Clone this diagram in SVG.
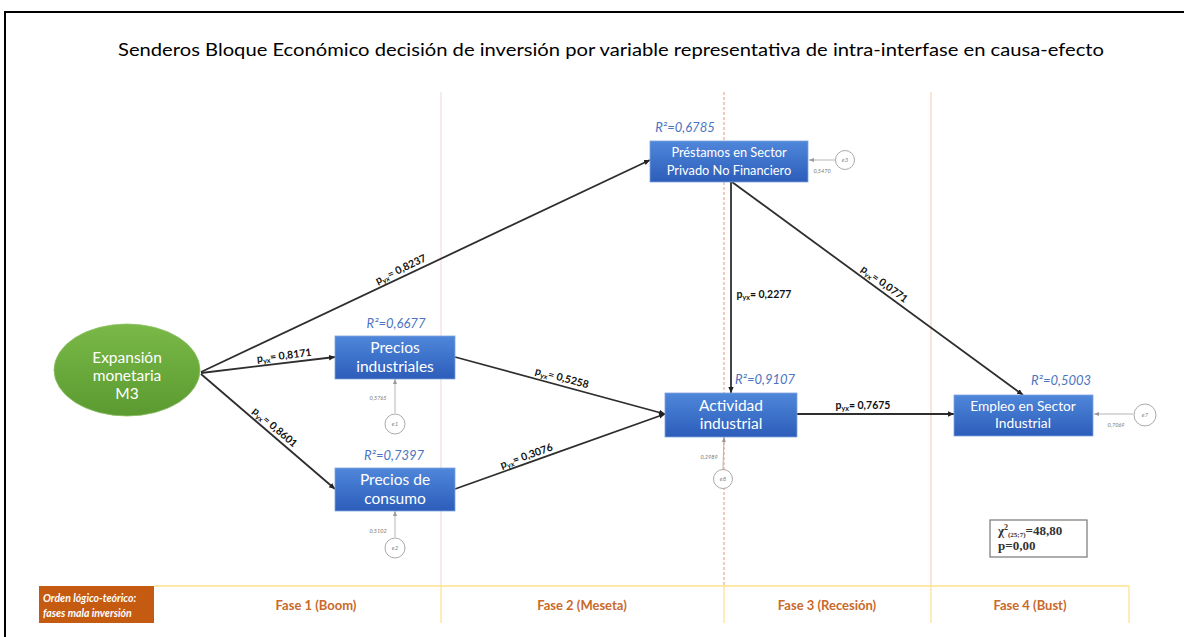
<svg xmlns="http://www.w3.org/2000/svg" width="1184" height="637" viewBox="0 0 1184 637">
<defs>
<linearGradient id="gBlue" x1="0" y1="0" x2="0" y2="1">
<stop offset="0" stop-color="#4F87DA"/>
<stop offset="1" stop-color="#2C5DBA"/>
</linearGradient>
<linearGradient id="gGreen" x1="0" y1="0" x2="0" y2="1">
<stop offset="0" stop-color="#7AB948"/>
<stop offset="1" stop-color="#5A9A30"/>
</linearGradient>
<marker id="arr" markerUnits="userSpaceOnUse" markerWidth="7" markerHeight="7" refX="6" refY="3.5" orient="auto">
<path d="M0,0.8 L6,3.5 L0,6.2 z" fill="#222"/>
</marker>
<marker id="arrG" markerUnits="userSpaceOnUse" markerWidth="6" markerHeight="6" refX="5" refY="3" orient="auto">
<path d="M0,1 L5,3 L0,5 z" fill="#999"/>
</marker>
</defs>
<style>
.box{fill:url(#gBlue);stroke:#7FA3DE;stroke-width:0.8}
.nt{font-family:Lato,"Open Sans",sans-serif;fill:#fff;text-anchor:middle}
.r2{font-family:Lato,"Open Sans",sans-serif;font-style:italic;font-size:13px;fill:#4C74C2;text-anchor:middle}
.edge{stroke:#2e2e2e;stroke-width:1.8;fill:none;marker-end:url(#arr)}
.el{font-family:Lato,"Open Sans",sans-serif;font-weight:bold;font-size:10.5px;fill:#111;text-anchor:middle}
.err{fill:#fff;stroke:#aaa;stroke-width:1}
.errl{stroke:#b5b5b5;stroke-width:1;fill:none;marker-end:url(#arrG)}
.et{font-family:Lato,sans-serif;font-style:italic;font-size:6px;fill:#888;text-anchor:middle}
.ev{font-family:Lato,sans-serif;font-style:italic;font-size:5.5px;fill:#777;text-anchor:middle}
.ph{font-family:Lato,"Open Sans",sans-serif;font-weight:bold;font-size:13px;fill:#C9692A;text-anchor:middle}
</style>
<rect x="0" y="0" width="1184" height="637" fill="#fff"/>
<g id="frame">
<line x1="4" y1="12" x2="1184" y2="12" stroke="#000" stroke-width="2"/>
<line x1="5" y1="11" x2="5" y2="637" stroke="#000" stroke-width="2"/>
</g>
<text id="title" x="611" y="56" font-family="Lato,'Open Sans',sans-serif" font-size="18" fill="#000" text-anchor="middle" textLength="986" lengthAdjust="spacingAndGlyphs">Senderos Bloque Económico decisión de inversión por variable representativa de intra-interfase en causa-efecto</text>
<g id="phase-lines">
<line x1="441" y1="92" x2="441" y2="586" stroke="#F0DCDC" stroke-width="1.2"/>
<line x1="724" y1="92" x2="724" y2="586" stroke="#E7A08A" stroke-width="1.1" stroke-dasharray="3,2"/>
<line x1="931" y1="92" x2="931" y2="586" stroke="#F3D2BF" stroke-width="1.2"/>
</g>
<g id="connectors">
<line class="edge" x1="201" y1="372" x2="650" y2="160"/>
<line class="edge" x1="201" y1="373" x2="335" y2="357"/>
<line class="edge" x1="201" y1="374" x2="335" y2="489"/>
<line class="edge" x1="455" y1="357" x2="665" y2="414"/>
<line class="edge" x1="455" y1="489" x2="665" y2="414"/>
<line class="edge" x1="731" y1="182" x2="731" y2="393"/>
<line class="edge" x1="732" y1="182" x2="1023" y2="395"/>
<line class="edge" x1="797" y1="414" x2="954" y2="414"/>
<text class="el" transform="translate(404,276) rotate(-25.4)" y="-4">p<tspan font-size="7" dy="2">yx</tspan><tspan dy="-2">= 0,8237</tspan></text>
<text class="el" transform="translate(285,363) rotate(-6.8)" y="-4">p<tspan font-size="7" dy="2">yx</tspan><tspan dy="-2">= 0,8171</tspan></text>
<text class="el" transform="translate(270,433) rotate(40.6)" y="-4">p<tspan font-size="7" dy="2">yx</tspan><tspan dy="-2">= 0,8601</tspan></text>
<text class="el" transform="translate(560,385) rotate(15.2)" y="-4">p<tspan font-size="7" dy="2">yx</tspan><tspan dy="-2">= 0,5258</tspan></text>
<text class="el" transform="translate(529,463) rotate(-19.5)" y="-4">p<tspan font-size="7" dy="2">yx</tspan><tspan dy="-2">= 0,3076</tspan></text>
<text class="el" x="764" y="298">p<tspan font-size="7" dy="2">yx</tspan><tspan dy="-2">= 0,2277</tspan></text>
<text class="el" transform="translate(880,290) rotate(36.2)" y="-4">p<tspan font-size="7" dy="2">yx</tspan><tspan dy="-2">= 0,0771</tspan></text>
<text class="el" x="863" y="409">p<tspan font-size="7" dy="2">yx</tspan><tspan dy="-2">= 0,7675</tspan></text>
<line class="errl" x1="395" y1="413" x2="395" y2="379"/>
<line class="errl" x1="395" y1="537" x2="395" y2="511"/>
<line class="errl" x1="835" y1="160" x2="809" y2="160"/>
<line class="errl" x1="723" y1="469" x2="724" y2="437"/>
<line class="errl" x1="1133" y1="414" x2="1094" y2="414"/>
</g>
<g id="m3">
<ellipse cx="127" cy="370" rx="73" ry="46" fill="url(#gGreen)" stroke="#8CC063" stroke-width="0.8"/>
<text class="nt" font-size="15.5"><tspan x="127" y="363">Expansión</tspan><tspan x="127" y="381">monetaria</tspan><tspan x="127" y="399">M3</tspan></text>
</g>
<g id="precios-industriales">
<rect class="box" x="335" y="336" width="120" height="43"/>
<text class="nt" font-size="15.5"><tspan x="395" y="353">Precios</tspan><tspan x="395" y="372">industriales</tspan></text>
<text class="r2" x="396" y="328">R²=0,6677</text>
</g>
<g id="precios-consumo">
<rect class="box" x="335" y="468" width="120" height="43"/>
<text class="nt" font-size="15.5"><tspan x="395" y="485">Precios de</tspan><tspan x="395" y="504">consumo</tspan></text>
<text class="r2" x="394" y="460">R²=0,7397</text>
</g>
<g id="prestamos">
<rect class="box" x="650" y="141" width="158" height="41"/>
<text class="nt" font-size="12.8"><tspan x="729" y="157">Préstamos en Sector</tspan><tspan x="729" y="175">Privado No Financiero</tspan></text>
<text class="r2" x="685" y="132">R²=0,6785</text>
</g>
<g id="actividad">
<rect class="box" x="665" y="393" width="132" height="44"/>
<text class="nt" font-size="15.5"><tspan x="731" y="411">Actividad</tspan><tspan x="731" y="429">industrial</tspan></text>
<text class="r2" x="765" y="384">R²=0,9107</text>
</g>
<g id="empleo">
<rect class="box" x="954" y="395" width="139" height="41"/>
<text class="nt" font-size="13.7"><tspan x="1023" y="411">Empleo en Sector</tspan><tspan x="1023" y="428">Industrial</tspan></text>
<text class="r2" x="1061" y="385">R²=0,5003</text>
</g>
<g id="e1"><circle class="err" cx="395" cy="424" r="10"/><text class="et" x="395" y="426">e1</text><text class="ev" x="378" y="400">0,5765</text></g>
<g id="e2"><circle class="err" cx="395" cy="548" r="10"/><text class="et" x="395" y="550">e2</text><text class="ev" x="378" y="533">0,5102</text></g>
<g id="e3"><circle class="err" cx="845" cy="160" r="9.5"/><text class="et" x="845" y="162">e3</text><text class="ev" x="822" y="173">0,5470</text></g>
<g id="e8"><circle class="err" cx="723" cy="479" r="9.5"/><text class="et" x="723" y="481">e8</text><text class="ev" x="709" y="459">0,2989</text></g>
<g id="e7"><circle class="err" cx="1145" cy="415" r="11"/><text class="et" x="1145" y="417">e7</text><text class="ev" x="1116" y="427">0,7069</text></g>
<g id="fit">
<rect x="990" y="520" width="97" height="37" fill="#fff" stroke="#777" stroke-width="1.2"/>
<text font-family="'Liberation Serif',serif" font-size="13" fill="#333" font-weight="bold" x="998" y="535">χ<tspan font-size="8" dy="-5">2</tspan><tspan font-size="7" dy="7">(25;7)</tspan><tspan dy="-2">=48,80</tspan></text>
<text font-family="'Liberation Serif',serif" font-size="13" fill="#333" font-weight="bold" x="998" y="550">p=0,00</text>
</g>
<g id="phases">
<rect x="39" y="586" width="115" height="37" fill="#C55A11"/>
<text font-family="Lato,'Open Sans',sans-serif" font-size="10.5" font-style="italic" font-weight="bold" fill="#fff"><tspan x="43" y="602">Orden lógico-teórico:</tspan><tspan x="43" y="617">fases mala inversión</tspan></text>
<line x1="154" y1="586" x2="1129" y2="586" stroke="#FFE08C" stroke-width="1.5"/>
<line x1="441" y1="586" x2="441" y2="623" stroke="#FFE08C" stroke-width="1.2"/>
<line x1="724" y1="586" x2="724" y2="623" stroke="#FFE08C" stroke-width="1.2"/>
<line x1="931" y1="586" x2="931" y2="623" stroke="#FFE08C" stroke-width="1.2"/>
<line x1="1129" y1="586" x2="1129" y2="623" stroke="#FFE08C" stroke-width="1.2"/>
<text class="ph" x="316" y="610">Fase 1 (Boom)</text>
<text class="ph" x="582" y="610">Fase 2 (Meseta)</text>
<text class="ph" x="827" y="610">Fase 3 (Recesión)</text>
<text class="ph" x="1030" y="610">Fase 4 (Bust)</text>
</g>
</svg>
